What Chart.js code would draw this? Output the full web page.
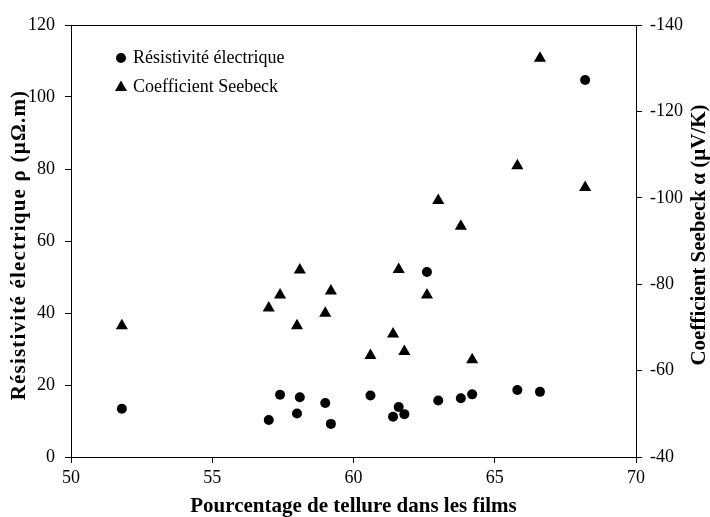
<!DOCTYPE html>
<html>
<head>
<meta charset="utf-8">
<script src="https://cdn.jsdelivr.net/npm/chart.js@4"></script>
<style>
  body { margin: 0; background: #fff; }
</style>
</head>
<body>
<canvas id="chart" width="710" height="517"></canvas>
<script>
// % de tellure (axe x)
const tellure = [51.8, 57.0, 57.4, 58.0, 58.1, 59.0, 59.2, 60.6, 61.4, 61.6, 61.8, 62.6, 63.0, 63.8, 64.2, 65.8, 66.6, 68.2];
// résistivité électrique (axe gauche)
const resistivite = [13.4, 10.3, 17.3, 12.1, 16.6, 15.0, 9.2, 17.1, 11.2, 13.9, 11.9, 51.4, 15.7, 16.3, 17.4, 18.6, 18.1, 104.7];
// coefficient Seebeck (axe droit)
const seebeck = [-70.4, -74.5, -77.5, -70.4, -83.3, -73.3, -78.4, -63.5, -68.5, -83.4, -64.4, -77.5, -99.4, -93.4, -62.5, -107.4, -132.3, -102.4];

const serif = "'Liberation Serif', 'Times New Roman', serif";
const tickFont = { family: serif, size: 18 };
const titleFont = { family: serif, size: 21, weight: "bold", lineHeight: 1 };

const toPoints = (ys) => tellure.map((x, i) => ({ x: x, y: ys[i] }));

const drawVertical = (ctx, text, x, y, spacing) => {
  ctx.save();
  ctx.fillStyle = "#000";
  ctx.font = "bold 21px " + serif;
  ctx.letterSpacing = spacing;
  ctx.textAlign = "center";
  ctx.textBaseline = "middle";
  ctx.translate(x, y);
  ctx.rotate(-Math.PI / 2);
  ctx.fillText(text, 0, 0);
  ctx.restore();
};

// cadre du haut + titres verticaux + légende
const decor = {
  id: "decor",
  afterDraw(chart) {
    const { ctx, chartArea } = chart;
    ctx.save();
    ctx.strokeStyle = "#000";
    ctx.lineWidth = 1;
    ctx.beginPath();
    ctx.moveTo(chartArea.left, chartArea.top + 0.5);
    ctx.lineTo(chartArea.right, chartArea.top + 0.5);
    ctx.stroke();
    ctx.restore();

    drawVertical(ctx, "R\u00e9sistivit\u00e9 \u00e9lectrique \u03c1 (\u00b5\u03a9.m)", 20, 245, "1.2px");
    drawVertical(ctx, "Coefficient Seebeck \u03b1 (\u00b5V/K)", 700, 235, "0px");

    // légende
    ctx.save();
    ctx.fillStyle = "#000";
    ctx.font = "18px " + serif;
    ctx.textBaseline = "middle";
    ctx.beginPath();
    ctx.arc(121, 58, 5, 0, Math.PI * 2);
    ctx.fill();
    ctx.fillText("R\u00e9sistivit\u00e9 \u00e9lectrique", 133, 58);
    ctx.beginPath();
    ctx.moveTo(121, 80.5);
    ctx.lineTo(127, 91);
    ctx.lineTo(115, 91);
    ctx.closePath();
    ctx.fill();
    ctx.fillText("Coefficient Seebeck", 133, 87);
    ctx.restore();
  }
};

new Chart(document.getElementById("chart"), {
  type: "scatter",
  data: {
    datasets: [
      {
        label: "Résistivité électrique",
        data: toPoints(resistivite),
        yAxisID: "y",
        pointStyle: "circle",
        pointRadius: 5,
        backgroundColor: "#000",
        borderColor: "#000",
        borderWidth: 0
      },
      {
        label: "Coefficient Seebeck",
        data: toPoints(seebeck),
        yAxisID: "y2",
        pointStyle: "triangle",
        pointRadius: 7,
        backgroundColor: "#000",
        borderColor: "#000",
        borderWidth: 0
      }
    ]
  },
  options: {
    responsive: false,
    animation: false,
    layout: { padding: { top: 25, left: 0, right: 0, bottom: 0 } },
    plugins: { legend: { display: false }, tooltip: { enabled: false } },
    scales: {
      x: {
        type: "linear",
        min: 50,
        max: 70,
        ticks: { stepSize: 5, color: "#000", font: tickFont, padding: 4, maxRotation: 0 },
        grid: { drawOnChartArea: false, tickLength: 6, color: "#000" },
        border: { color: "#000", width: 1 },
        title: { display: true, text: "Pourcentage de tellure dans les films", color: "#000", font: titleFont, padding: { top: 0, bottom: 0 } },
        afterFit: (s) => { s.height = 60; }
      },
      y: {
        position: "left",
        min: 0,
        max: 120,
        ticks: { stepSize: 20, color: "#000", font: tickFont, padding: 10 },
        grid: { drawOnChartArea: false, tickLength: 6, color: "#000" },
        border: { color: "#000", width: 1 },
        afterFit: (s) => { s.width = 71; }
      },
      y2: {
        position: "right",
        min: -140,
        max: -40,
        reverse: true,
        ticks: { stepSize: 20, color: "#000", font: tickFont, padding: 8 },
        grid: { drawOnChartArea: false, tickLength: 6, color: "#000" },
        border: { color: "#000", width: 1 },
        afterFit: (s) => { s.width = 74; }
      }
    }
  },
  plugins: [decor]
});
</script>
</body>
</html>
